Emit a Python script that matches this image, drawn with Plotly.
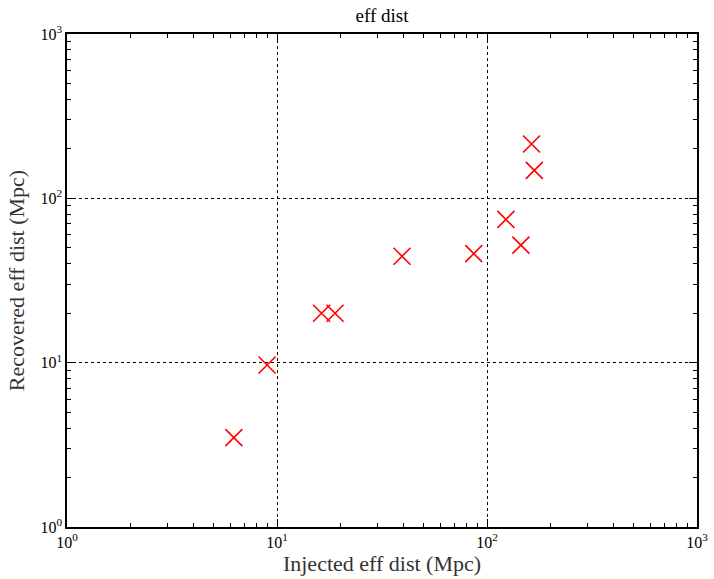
import plotly.graph_objects as go

injected = [6.23, 8.97, 16.3, 18.9, 39.4, 86.5, 123, 145, 163, 168]
recovered = [3.50, 9.68, 20.0, 20.0, 44.4, 46.1, 74.4, 51.9, 214, 148]

tick_vals = [1, 10, 100, 1000]
tick_text = ["10<sup>0</sup>", "10<sup>1</sup>", "10<sup>2</sup>", "10<sup>3</sup>"]
minor_vals = [m * d for d in (1, 10, 100) for m in range(2, 10)]

FONT = "Liberation Serif"

fig = go.Figure()
fig.add_trace(go.Scatter(
    x=injected, y=recovered, mode="markers",
    marker=dict(symbol="x-thin", size=17, line=dict(color="red", width=1.6), color="red"),
    showlegend=False, cliponaxis=False,
))

axis_common = dict(
    type="log",
    range=[0, 3],
    tickvals=tick_vals,
    ticktext=tick_text,
    ticks="inside",
    ticklen=8,
    tickwidth=1,
    tickcolor="black",
    showline=True,
    linecolor="black",
    linewidth=1.5,
    mirror="allticks",
    showgrid=True,
    gridcolor="black",
    gridwidth=1,
    griddash="dot",
    zeroline=False,
    automargin=False,
    tickfont=dict(family=FONT, size=16, color="black"),
    minor=dict(tickvals=minor_vals, ticks="inside", ticklen=4, tickcolor="black",
               tickwidth=1, showgrid=False),
)

fig.update_xaxes(**axis_common,
                 title=dict(text="Injected eff dist (Mpc)", font=dict(family=FONT, size=22, color="#333"), standoff=4))
fig.update_yaxes(**axis_common,
                 title=dict(text="Recovered eff dist (Mpc)", font=dict(family=FONT, size=22, color="#333"), standoff=10))

fig.update_layout(
    width=714, height=579,
    margin=dict(l=67, r=17, t=34, b=52),
    paper_bgcolor="white", plot_bgcolor="white",
    title=dict(text="eff dist", x=0.535, xanchor="center", y=0.985, yanchor="top",
               font=dict(family=FONT, size=19, color="black")),
)

fig.write_html("out.html", config={"displayModeBar": False},
               post_script="document.body.style.margin='0';document.body.style.overflow='hidden';")
